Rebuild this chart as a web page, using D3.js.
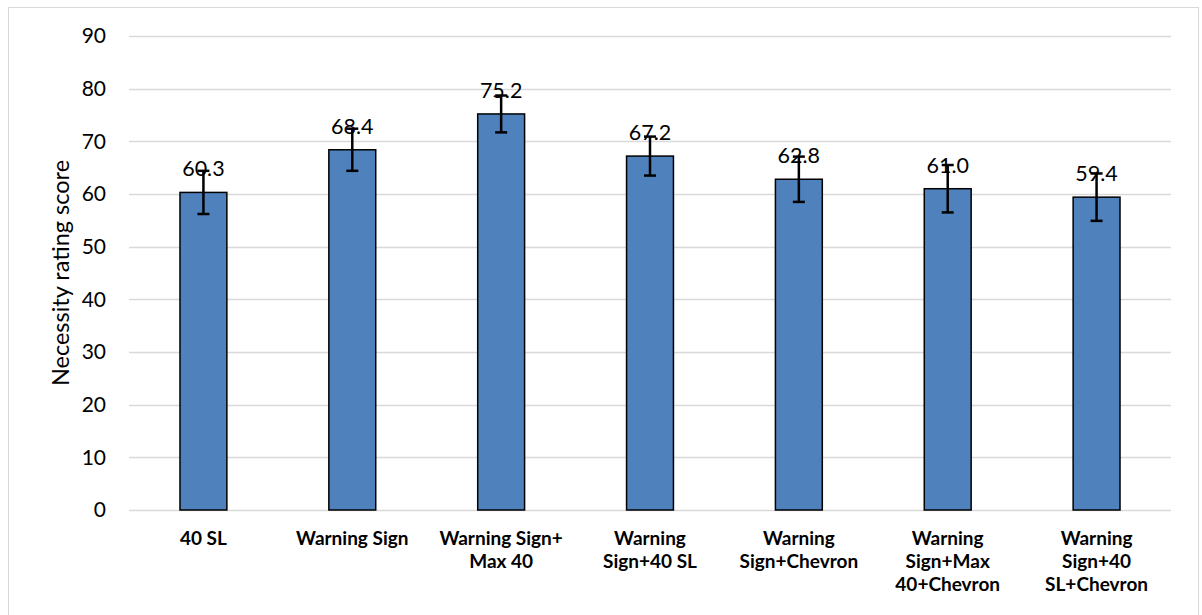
<!DOCTYPE html>
<html><head><meta charset="utf-8">
<script src="https://cdn.jsdelivr.net/npm/d3@7"></script>
<style>body{margin:0;background:#fff}svg{display:block}</style>
</head><body>
<svg id="c" width="1202" height="615"></svg>
<script>
const categories = [["40 SL"],["Warning Sign"],["Warning Sign+","Max 40"],["Warning","Sign+40 SL"],["Warning","Sign+Chevron"],["Warning","Sign+Max","40+Chevron"],["Warning","Sign+40","SL+Chevron"]];
const values = [60.3, 68.4, 75.2, 67.2, 62.8, 61.0, 59.4];
const errors = [4.1, 4.0, 3.5, 3.7, 4.3, 4.5, 4.5];
const yTicks = [0,10,20,30,40,50,60,70,80,90];
const yTitle = "Necessity rating score";

const svg = d3.select("#c");
const font = "Lato, 'Open Sans', sans-serif";
const L = 129, R = 1171, T = 36, B = 510;
svg.append("rect").attr("x",8.5).attr("y",7.5).attr("width",1190).attr("height",620)
  .attr("fill","#fff").attr("stroke","#d9d9d9").attr("stroke-width",1);

const x = d3.scaleBand().domain(d3.range(values.length)).range([L,R]).paddingInner(0.685).paddingOuter(0.3425);
const y = d3.scaleLinear().domain([0,90]).range([B,T]);

const g = svg.append("g");
g.selectAll(".grid").data(yTicks).enter().append("line")
  .attr("x1",L).attr("x2",R).attr("y1",d=>Math.round(y(d))+0.5).attr("y2",d=>Math.round(y(d))+0.5)
  .attr("stroke","#d9d9d9").attr("stroke-width",1.5);

const yAxis = svg.append("g").attr("transform",`translate(${L},0)`)
  .call(d3.axisLeft(y).tickValues(yTicks).tickSize(0).tickPadding(23));
yAxis.select(".domain").remove();
yAxis.selectAll("text").attr("font-family",font).attr("font-size",21).attr("fill","#000");

svg.append("text").attr("transform",`translate(69,${(T+B)/2}) rotate(-90)`)
  .attr("text-anchor","middle").attr("font-family",font).attr("font-size",23.5).attr("fill","#000").text(yTitle);

g.selectAll(".bar").data(values).enter().append("rect")
  .attr("x",(d,i)=>x(i)).attr("width",x.bandwidth())
  .attr("y",d=>y(d)).attr("height",d=>B-y(d))
  .attr("fill","#4f81bd").attr("stroke","#000").attr("stroke-width",1.5);

// value labels
g.selectAll(".lbl").data(values).enter().append("text")
  .attr("x",(d,i)=>x(i)+x.bandwidth()/2).attr("y",d=>y(d)-16)
  .attr("text-anchor","middle").attr("font-family",font).attr("font-size",21.5).attr("fill","#000")
  .text(d=>d.toFixed(1));

// error bars
const eb = g.selectAll(".eb").data(values).enter().append("g");
eb.append("line").attr("x1",(d,i)=>x(i)+x.bandwidth()/2).attr("x2",(d,i)=>x(i)+x.bandwidth()/2)
  .attr("y1",(d,i)=>y(d+errors[i])).attr("y2",(d,i)=>y(d-errors[i])).attr("stroke","#000").attr("stroke-width",2.5);
[1,-1].forEach(s=>{
  eb.append("line").attr("x1",(d,i)=>x(i)+x.bandwidth()/2-6).attr("x2",(d,i)=>x(i)+x.bandwidth()/2+6)
    .attr("y1",(d,i)=>y(d+s*errors[i])).attr("y2",(d,i)=>y(d+s*errors[i])).attr("stroke","#000").attr("stroke-width",2.5);
});

// x labels
const xl = svg.selectAll(".xl").data(categories).enter().append("text")
  .attr("x",(d,i)=>x(i)+x.bandwidth()/2).attr("y",545)
  .attr("text-anchor","middle").attr("font-family",font).attr("font-size",19).attr("font-weight","bold").attr("fill","#000");
xl.selectAll("tspan").data(d=>d).enter().append("tspan")
  .attr("x",function(){return this.parentNode.getAttribute("x");})
  .attr("dy",(d,i)=>i===0?0:23).text(d=>d);
</script>
</body></html>
